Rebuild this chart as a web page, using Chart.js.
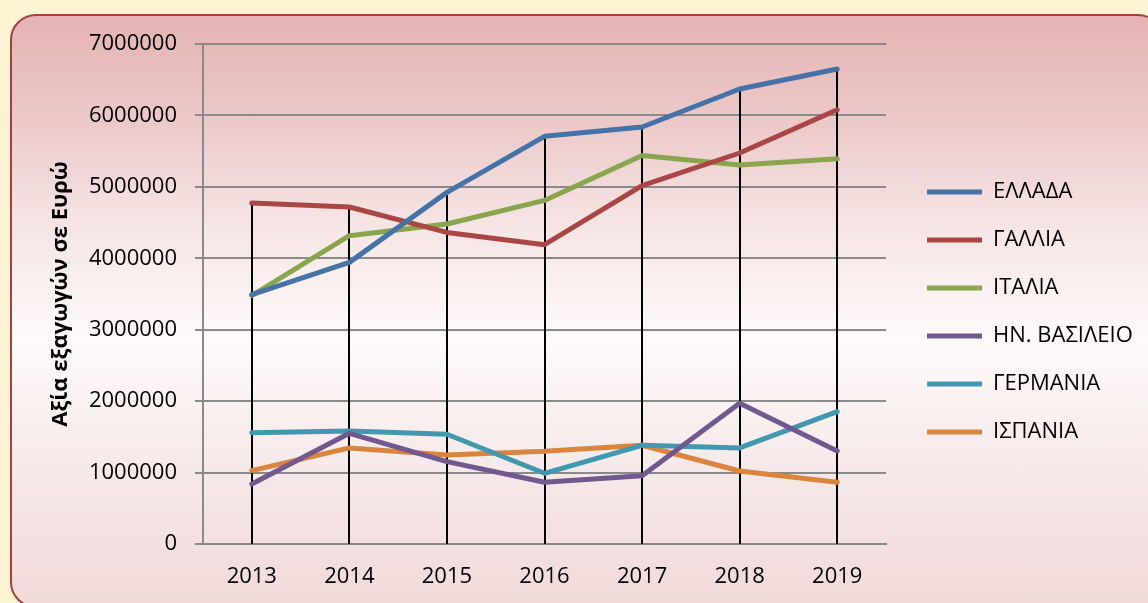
<!DOCTYPE html>
<html>
<head>
<meta charset="utf-8">
<script src="https://cdn.jsdelivr.net/npm/chart.js@4.4.1/dist/chart.umd.min.js"></script>
<style>
  html, body { margin: 0; padding: 0; width: 1148px; height: 603px; overflow: hidden; background: #fdf3d3; }
  #frame {
    position: absolute; left: 10px; top: 14px; width: 1150px; height: 590px;
    border: 2px solid #a3413f; border-radius: 26px;
    background: linear-gradient(to bottom, #e5b3b3 0%, #ecc9c9 18%, #f6e4e4 35%, #fefafa 55%, #f8ecec 72%, #f1d9d9 100%);
  }
  #wrap { position: absolute; left: 0; top: 0; width: 1148px; height: 603px; }
</style>
</head>
<body>
<div id="frame"></div>
<div id="wrap"><canvas id="c" width="1148" height="603"></canvas></div>
<script>
const categories = ['2013', '2014', '2015', '2016', '2017', '2018', '2019'];
const seriesNames = ['ΕΛΛΑΔΑ', 'ΓΑΛΛΙΑ', 'ΙΤΑΛΙΑ', 'ΗΝ. ΒΑΣΙΛΕΙΟ', 'ΓΕΡΜΑΝΙΑ', 'ΙΣΠΑΝΙΑ'];
const greece  = [3490000, 3943000, 4923000, 5707000, 5838000, 6370000, 6650000];
const france  = [4774000, 4718000, 4362000, 4190000, 5016000, 5474000, 6080000];
const italy   = [3476000, 4316000, 4480000, 4810000, 5440000, 5306000, 5394000];
const uk      = [840000, 1550000, 1153000, 864000, 957000, 1970000, 1302000];
const germany = [1559000, 1583000, 1536000, 990000, 1382000, 1345000, 1853000];
const spain   = [1027000, 1345000, 1246000, 1298000, 1382000, 1022000, 864000];
const yTicks  = [0, 1000000, 2000000, 3000000, 4000000, 5000000, 6000000, 7000000];
const yTitle  = 'Αξία εξαγωγών σε Ευρώ';

const seriesValues = [greece, france, italy, uk, germany, spain];
const colors = ['#4572a7', '#aa4643', '#89a54e', '#71588f', '#4198af', '#db843d'];

const FONT = '"Open Sans", "Noto Sans", sans-serif';
const legendFontSize = 22;

// measure legend to place chart area right edge
const mctx = document.createElement('canvas').getContext('2d');
mctx.font = legendFontSize + 'px ' + FONT;
let maxTW = 0;
seriesNames.forEach(n => { maxTW = Math.max(maxTW, mctx.measureText(n).width); });
const legendPad = 26, boxW = 55;
const legendW = legendPad + boxW + legendFontSize / 2 + maxTW + 10;
const rightPad = Math.max(0, 1148 - 886 - legendW);

const dropLines = {
  id: 'dropLines',
  beforeDatasetsDraw(chart) {
    const ctx = chart.ctx, xs = chart.scales.x, ys = chart.scales.y;
    ctx.save();
    ctx.strokeStyle = '#000000';
    ctx.lineWidth = 2;
    categories.forEach((c, i) => {
      let mx = -Infinity;
      chart.data.datasets.forEach(ds => { mx = Math.max(mx, ds.data[i]); });
      const x = Math.round(xs.getPixelForValue(i));
      ctx.beginPath();
      ctx.moveTo(x, ys.getPixelForValue(mx));
      ctx.lineTo(x, ys.getPixelForValue(0));
      ctx.stroke();
    });
    ctx.restore();
  }
};

const legendShift = {
  id: 'legendShift',
  afterLayout(chart) {
    const lg = chart.legend;
    if (lg) { lg.left += 15; lg.right += 15; lg.top -= 11.5; lg.bottom -= 11.5; }
  }
};

new Chart(document.getElementById('c'), {
  type: 'line',
  data: {
    labels: categories,
    datasets: seriesNames.map((n, i) => ({
      label: n,
      data: seriesValues[i],
      borderColor: colors[i],
      backgroundColor: colors[i],
      borderWidth: 5,
      pointRadius: 0,
      pointHoverRadius: 0,
      tension: 0,
      fill: false,
      borderCapStyle: 'round',
      borderJoinStyle: 'round'
    }))
  },
  options: {
    responsive: false,
    animation: false,
    devicePixelRatio: 1,
    layout: { padding: { top: 44, bottom: 0, left: 0, right: rightPad } },
    plugins: {
      tooltip: { enabled: false },
      legend: {
        display: true,
        position: 'right',
        align: 'center',
        labels: {
          color: '#000000',
          font: { family: FONT, size: legendFontSize },
          boxWidth: boxW,
          boxHeight: 5,
          padding: legendPad,
          useBorderRadius: true,
          borderRadius: 2.5,
          generateLabels(chart) {
            return chart.data.datasets.map((ds, i) => ({
              text: ds.label,
              fillStyle: ds.borderColor,
              strokeStyle: ds.borderColor,
              lineWidth: 0,
              fontColor: '#000000',
              hidden: false,
              datasetIndex: i
            }));
          }
        }
      }
    },
    scales: {
      x: {
        type: 'category',
        offset: true,
        afterFit(s) { s.height = 59; },
        grid: { display: false, drawTicks: false },
        border: { display: true, color: '#8a8a8a', width: 2 },
        ticks: { color: '#000000', font: { family: FONT, size: 22 }, padding: 20, maxRotation: 0, autoSkip: false }
      },
      y: {
        min: 0,
        max: 7000000,
        afterFit(s) { s.width = 203; },
        afterBuildTicks(s) { s.ticks = yTicks.map(v => ({ value: v })); },
        grid: { color: '#8a8a8a', lineWidth: 2, tickLength: 8, drawTicks: true },
        border: { display: true, color: '#8a8a8a', width: 2 },
        ticks: { color: '#000000', font: { family: FONT, size: 22 }, padding: 18, callback: v => String(v) },
        title: {
          display: true,
          text: yTitle,
          color: '#000000',
          font: { family: FONT, size: 22, weight: 'bold' },
          padding: { top: 48, bottom: 0 }
        }
      }
    }
  },
  plugins: [dropLines, legendShift]
});
</script>
</body>
</html>
